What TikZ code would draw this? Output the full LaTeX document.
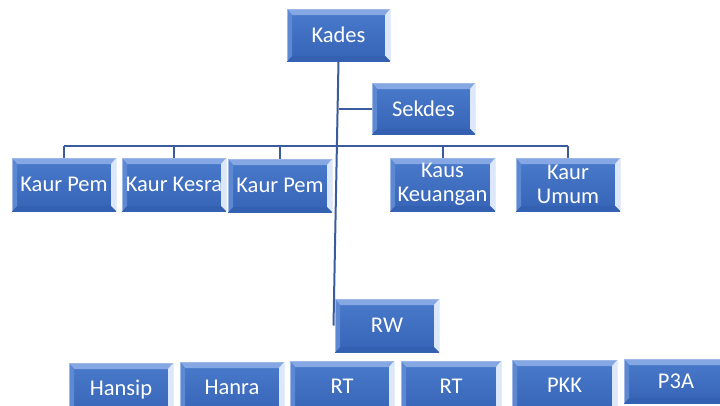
\documentclass[tikz,border=0pt]{standalone}
\usepackage{fontspec}
\setmainfont{Carlito}
\usetikzlibrary{backgrounds,calc}
\definecolor{face1}{HTML}{4A7BCB}
\definecolor{face2}{HTML}{3663B6}
\definecolor{bevtop}{HTML}{85A8E4}
\definecolor{bevright}{HTML}{DCE8F9}
\definecolor{bevbot}{HTML}{3360B0}
\definecolor{bevleft}{HTML}{5C88D4}
\definecolor{edge}{HTML}{9DB8E6}
\definecolor{linkc}{HTML}{3A5C9C}
\tikzset{
  orgbox/.style={rectangle, inner sep=0pt, outer sep=0pt, text=white,
    font=\fontsize{22.5}{24}\selectfont, align=center,
    minimum width=104pt, minimum height=53pt,
    path picture={
      \coordinate (pnw) at (path picture bounding box.north west);
      \coordinate (pne) at (path picture bounding box.north east);
      \coordinate (psw) at (path picture bounding box.south west);
      \coordinate (pse) at (path picture bounding box.south east);
      \shade[top color=face1, bottom color=face2] (pnw) rectangle (pse);
      \fill[bevtop] (pnw) -- (pne) -- ([xshift=-5pt,yshift=-6pt]pne) -- ([xshift=5pt,yshift=-6pt]pnw) -- cycle;
      \fill[bevright] (pne) -- (pse) -- ([xshift=-5pt,yshift=5pt]pse) -- ([xshift=-5pt,yshift=-6pt]pne) -- cycle;
      \fill[bevbot] (pse) -- (psw) -- ([xshift=5pt,yshift=5pt]psw) -- ([xshift=-5pt,yshift=5pt]pse) -- cycle;
      \fill[bevleft] (psw) -- (pnw) -- ([xshift=5pt,yshift=-6pt]pnw) -- ([xshift=5pt,yshift=5pt]psw) -- cycle;
      \draw[edge, line width=1pt] (psw) -- (pnw) -- (pne);
    }},
  link/.style={draw=linkc, line width=2pt}
}
\begin{document}
\begin{tikzpicture}[x=1pt,y=-1pt]
\useasboundingbox (0,0) rectangle (720,405);
\node[orgbox, minimum width=103pt, minimum height=52pt] (kades) at (338.5,35) {Kades};
\node[orgbox, minimum width=103pt, minimum height=51pt] (sekdes) at (423.5,108.5) {Sekdes};
\node[orgbox] (pemA) at (64,184.5) {Kaur Pem};
\node[orgbox] (kesra) at (174,184.5) {Kaur Kesra};
\node[orgbox] (pemB) at (280,185.5) {Kaur Pem};
\node[orgbox, minimum width=105pt] (keu) at (442.5,184.5) {Kaus\\Keuangan};
\node[orgbox] (umum) at (568,184.5) {Kaur\\Umum};
\node[orgbox] (rw) at (387,325.5) {RW};
\node[orgbox] (hansip) at (121,389.5) {\raisebox{3pt}{Hansip}};
\node[orgbox] (hanra) at (232,388.5) {\raisebox{3pt}{Hanra}};
\node[orgbox] (rtA) at (342,387.5) {\raisebox{3pt}{RT}};
\node[orgbox, minimum width=100pt] (rtB) at (451,387.5) {\raisebox{3pt}{RT}};
\node[orgbox, minimum width=105pt] (pkk) at (564.5,386.5) {\raisebox{3pt}{PKK}};
\node[orgbox, minimum width=104pt, minimum height=44pt] (p3a) at (676,381) {P3A};
\coordinate (bar) at (0,146);
\begin{scope}[on background layer]
  \draw[link] (kades.south) -- ([xshift=-1.5pt]rw.west);
  \draw[link] (kades.south |- sekdes.west) -- (sekdes.west);
  \draw[link] (pemA.north |- bar) -- (umum.north |- bar);
  \foreach \n in {pemA,kesra,pemB,keu,umum}
    \draw[link] (\n.north |- bar) -- (\n.north);
\end{scope}
\end{tikzpicture}
\end{document}
